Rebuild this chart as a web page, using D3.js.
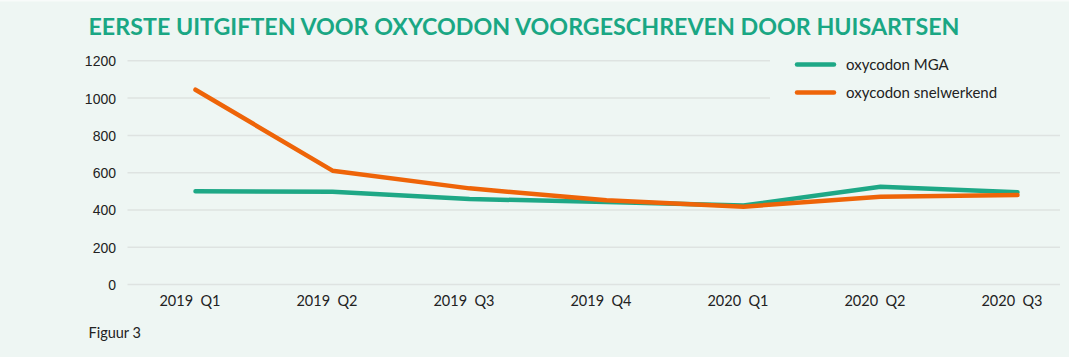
<!DOCTYPE html>
<html><head><meta charset="utf-8">
<script src="https://cdn.jsdelivr.net/npm/d3@7"></script>
<style>
html,body{margin:0;padding:0;background:#eef6f3;}
svg{display:block;}
</style></head>
<body>
<svg id="c" width="1069" height="357"></svg>
<script>
const categories = ["2019  Q1","2019  Q2","2019  Q3","2019  Q4","2020  Q1","2020  Q2","2020  Q3"];
const mga = [500, 498, 459, 443, 424, 525, 495];
const snelwerkend = [1045, 611, 516, 452, 418, 471, 480];
const yTicks = [0, 200, 400, 600, 800, 1000, 1200];
const seriesNames = ["oxycodon MGA", "oxycodon snelwerkend"];
const title = "EERSTE UITGIFTEN VOOR OXYCODON VOORGESCHREVEN DOOR HUISARTSEN";
const footnote = "Figuur 3";

const colors = ["#1ea886", "#ee6408"];
const svg = d3.select("#c");
svg.append("rect").attr("width",1069).attr("height",357).attr("fill","#eef6f3");
svg.append("rect").attr("width",1069).attr("height",1.5).attr("fill","#f8fbfa");

const x = d3.scalePoint().domain(categories).range([195.5, 1017.5]);
const y = d3.scaleLinear().domain([0,1200]).range([284.6, 60.8]);

// title
svg.append("text").attr("x",88.5).attr("y",35)
  .attr("font-family","Lato, 'Noto Sans', sans-serif").attr("font-weight",700)
  .attr("font-size",22).attr("fill","#1aa784")
  .attr("textLength",871).attr("lengthAdjust","spacingAndGlyphs")
  .text(title);

// gridlines
const grid = svg.append("g");
yTicks.forEach(t=>{
  const end = t >= 1000 ? 770 : 1060;
  grid.append("line").attr("x1",127.5).attr("x2",end)
    .attr("y1",y(t)).attr("y2",y(t))
    .attr("stroke","#dee3e1").attr("stroke-width",1.5);
});

// y axis labels
const yAxis = d3.axisLeft(y).tickValues(yTicks).tickSize(0).tickPadding(0).tickFormat(d3.format("d"));
const ya = svg.append("g").attr("transform","translate(116,0)").call(yAxis);
ya.select(".domain").remove();
ya.selectAll("text").attr("font-family","'Liberation Sans', Arial, sans-serif")
  .attr("font-size",14).attr("fill","#222").attr("dy","0.35em");

// x axis labels
const xAxis = d3.axisBottom(x).tickSize(0).tickPadding(0);
const xa = svg.append("g").attr("transform","translate(-6,296)").call(xAxis);
xa.select(".domain").remove();
xa.selectAll("text").attr("font-family","Lato, 'Noto Sans', sans-serif")
  .attr("font-size",14.5).attr("fill","#222").attr("dy","0.7em").style("white-space","pre");

// lines
const line = d3.line().x((d,i)=>x(categories[i])).y(d=>y(d));
[mga, snelwerkend].forEach((s,k)=>{
  svg.append("path").datum(s).attr("d",line).attr("fill","none")
    .attr("stroke",colors[k]).attr("stroke-width",4.5)
    .attr("stroke-linejoin","round").attr("stroke-linecap","round");
});

// legend
seriesNames.forEach((n,k)=>{
  const ly = 64.5 + k*28;
  svg.append("line").attr("x1",797).attr("x2",834).attr("y1",ly).attr("y2",ly)
    .attr("stroke",colors[k]).attr("stroke-width",4.5).attr("stroke-linecap","round");
  svg.append("text").attr("x",846).attr("y",ly+5)
    .attr("font-family","Lato, 'Noto Sans', sans-serif").attr("font-size",15)
    .attr("fill","#222").text(n);
});

// footnote
svg.append("text").attr("x",88.5).attr("y",337.5)
  .attr("font-family","Lato, 'Noto Sans', sans-serif").attr("font-size",14.5)
  .attr("fill","#222").text(footnote);
</script>
</body></html>
